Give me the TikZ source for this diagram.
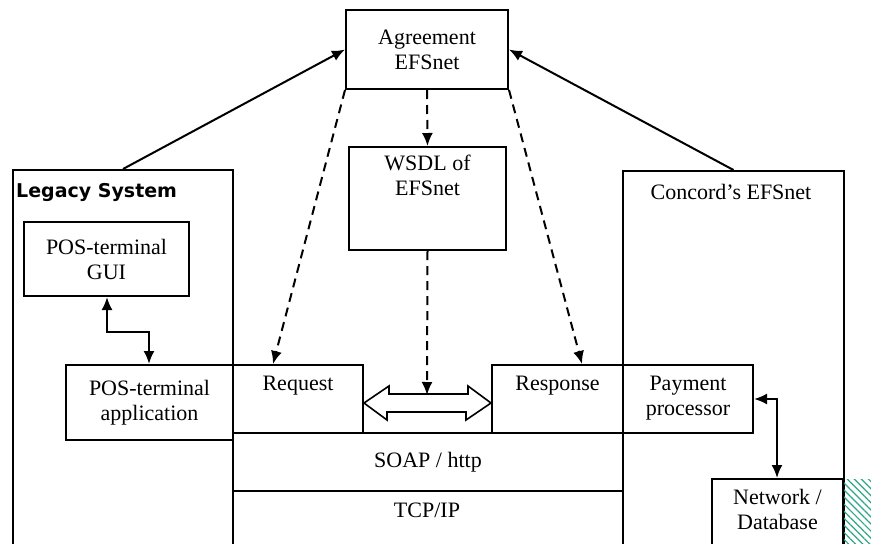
\documentclass[tikz,border=0pt]{standalone}
\usepackage{fontspec}
\setmainfont{Liberation Serif}
\newfontfamily\labelsans{DejaVu Sans}
\usetikzlibrary{positioning,patterns.meta,arrows.meta}
\definecolor{hatchgreen}{RGB}{45,165,135}
\tikzset{
  box/.style={draw, line width=2pt, inner sep=0pt, anchor=north west},
  txt/.style={font=\fontsize{22}{25}\selectfont, align=center, inner sep=1pt},
  link/.style={line width=2pt, -{Latex[length=13pt,width=11pt]}},
  dlink/.style={line width=2pt, {Latex[length=13pt,width=11pt]}-{Latex[length=13pt,width=11pt]}},
  dashlink/.style={line width=2pt, -{Latex[length=13pt,width=11pt]}, dash pattern=on 9pt off 6pt},
}
\begin{document}
\begin{tikzpicture}[x=1pt,y=-1pt]
	\clip (0,0) rectangle (871,544);
	% the two systems
	\node[box, minimum width=220, minimum height=420] (legacy) at (12,169) {};
	\node[box, minimum width=221, minimum height=420] (concord) at (622,170) {};
	\node[txt, anchor=west, font=\labelsans\bfseries\fontsize{19}{22}\selectfont] (legacylbl) at (15,192) {Legacy System};
	\node[txt] (concordlbl) at (731,192) {Concord's EFSnet};
	% agreement and wsdl
	\node[box, txt, minimum width=162, minimum height=79] (agree) at (345,9) {Agreement\\EFSnet};
	\node[box, minimum width=157, minimum height=103] (wsdl) at (348,146) {};
	\node[txt, below=8pt of wsdl.north] (wsdllbl) {WSDL of\\EFSnet};
	% legacy side
	\node[box, txt, minimum width=165, minimum height=74] (gui) at (23,221) {POS-terminal\\GUI};
	\node[box, txt, minimum width=167, minimum height=75] (app) at (65,364) {POS-terminal\\application};
	% messages
	\node[box, minimum width=130, minimum height=68] (req) at (232,364) {};
	\node[txt, below=11pt of req.north] (reqlbl) {Request};
	\node[box, minimum width=131, minimum height=68] (resp) at (491,364) {};
	\node[txt, below=11pt of resp.north] (resplbl) {Response};
	\node[box, minimum width=130, minimum height=68] (pay) at (622,364) {};
	\node[txt, below=11pt of pay.north] (paylbl) {Payment\\processor};
	% protocol layers
	\node[box, txt, minimum width=390, minimum height=58] (soap) at (232,432) {SOAP / http};
	\node[txt] (tcp) at (427,510) {TCP/IP};
	\node[box, minimum width=131, minimum height=120] (net) at (711,478) {};
	\node[txt, below=10pt of net.north] (netlbl) {Network /\\Database};
	\fill[pattern={Lines[angle=-45,distance=5pt,line width=1.2pt]}, pattern color=hatchgreen] (844,479) rectangle (871,544);
	% hollow double arrow
	\coordinate (dbl) at (427,403);
	\draw[line width=1.6pt, fill=white] (req.east |- dbl) -- ++(25,-17) -- ++(0,8) -- ++(79,0) -- ++(0,-8)
		-- (resp.west |- dbl) -- ++(-25,17) -- ++(0,-8) -- ++(-79,0) -- ++(0,8) -- cycle;
	% connectors
	\draw[link] (legacy.north) -- (agree.west);
	\draw[link] (concord.north) -- (agree.east);
	\draw[dashlink] (agree.south) -- (wsdl.north);
	\draw[dashlink] (agree.south west) -- ([xshift=41pt]req.north west);
	\draw[dashlink] (agree.south east) -- ([xshift=91pt]resp.north west);
	\draw[dashlink] (wsdl.south) -- ([yshift=8pt]dbl);
	\draw[dlink] ([xshift=84pt]gui.south west) -- ++(0,35) -| ([xshift=84pt]app.north west);
	\draw[dlink] (pay.east) -| ([xshift=66pt]net.north west);
\end{tikzpicture}
\end{document}
